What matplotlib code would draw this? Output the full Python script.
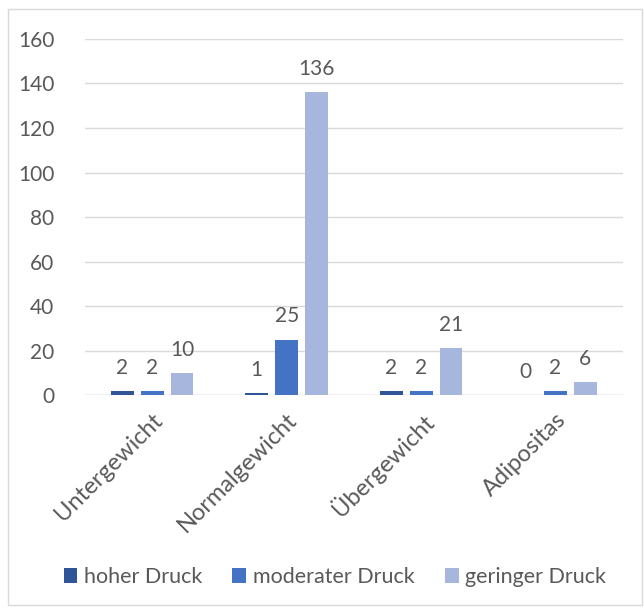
import numpy as np
import matplotlib.pyplot as plt
from matplotlib.patches import Rectangle

categories = ['Untergewicht', 'Normalgewicht', 'Übergewicht', 'Adipositas']
series = ['hoher Druck', 'moderater Druck', 'geringer Druck']
hoher = [2, 1, 2, 0]
moderater = [2, 25, 2, 2]
geringer = [10, 136, 21, 6]
colors = ['#2F5597', '#4472C4', '#A7B6DC']

plt.rcParams['font.family'] = ['Lato', 'DejaVu Sans']
txt = '#595959'

fig = plt.figure(figsize=(6.44, 6.08), dpi=100)
ax = fig.add_axes([0.132, 0.350, 0.835, 0.586])

x = np.arange(len(categories))
w = 0.17
step = 0.222
for i, (vals, name) in enumerate(zip([hoher, moderater, geringer], series)):
    pos = x + (i - 1) * step
    bars = ax.bar(pos, vals, width=w, color=colors[i], label=name, zorder=3)
    for p, v in zip(pos, vals):
        ax.annotate(str(v), (p, v), xytext=(0, 9.5), textcoords='offset points',
                    ha='center', va='bottom', fontsize=15, color=txt)

ax.set_xlim(-0.5, len(categories) - 0.5)
ax.set_ylim(0, 160)
ax.set_yticks(range(0, 161, 20))
ax.grid(axis='y', color='#D9D9D9', linewidth=1, zorder=0)
for s in ax.spines.values():
    s.set_visible(False)
ax.axhline(0, color='#D9D9D9', linewidth=1, zorder=2)
ax.tick_params(axis='both', length=0, labelsize=15, colors=txt)
ax.tick_params(axis='y', pad=22)
ax.set_xticks(x)
ax.set_xticklabels(categories, rotation=45, ha='right', rotation_mode='anchor',
                   fontsize=17)
ax.tick_params(axis='x', pad=10)

leg = fig.legend(loc='center', bbox_to_anchor=(0.52, 0.051), ncol=3, frameon=False,
                 fontsize=15.5, handlelength=0.65, handleheight=0.65,
                 handletextpad=0.3, columnspacing=1.4, labelcolor=txt)

fig.patches.append(Rectangle((0.012, 0.005), 0.985, 0.98, transform=fig.transFigure,
                             fill=False, edgecolor='#D9D9D9', linewidth=1))

fig.savefig('out.png', dpi=100)
